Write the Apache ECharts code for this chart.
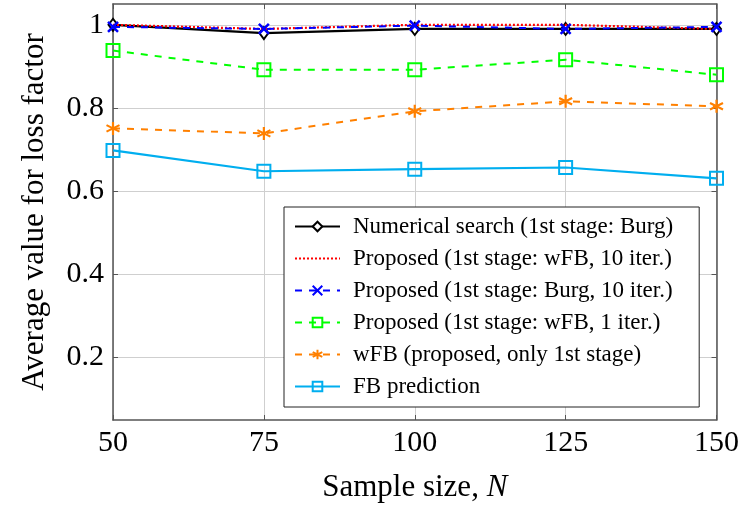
<!DOCTYPE html>
<html>
<head>
<meta charset="utf-8">
<script src="https://cdn.jsdelivr.net/npm/echarts@6/dist/echarts.min.js"></script>
<style>
  html, body { margin: 0; padding: 0; background: #fff; }
  #chart { width: 742px; height: 508px; }
</style>
</head>
<body>
<div id="chart"></div>
<script>
const sampleSizes = [50, 75, 100, 125, 150];
const numericalSearch = [1.0, 0.98, 0.99, 0.99, 0.99];
const proposedWfb10 = [1.0, 0.99, 1.0, 1.0, 0.99];
const proposedBurg10 = [0.995, 0.99, 0.998, 0.99, 0.995];
const proposedWfb1 = [0.938, 0.892, 0.892, 0.916, 0.88];
const wfbOnly = [0.751, 0.739, 0.792, 0.816, 0.804];
const fbPrediction = [0.698, 0.648, 0.653, 0.657, 0.631];
const yTicks = [0.2, 0.4, 0.6, 0.8, 1];

const pairs = (ys) => sampleSizes.map((x, i) => [x, ys[i]]);

const serif = "'Liberation Serif', 'DejaVu Serif', serif";
const frame = "#555";
const grid = "#cfcfcf";

// marker shapes
const xMark = "path://M-1,-1 L1,1 M-1,1 L1,-1";
const asterisk = "path://M0,-10 L0,10 M-8.66,-5 L8.66,5 M-8.66,5 L8.66,-5";

const chart = echarts.init(document.getElementById("chart"));

const baseX = {
  type: "value",
  min: 50,
  max: 150,
  interval: 25,
  axisLine: { lineStyle: { color: frame, width: 1.5 } },
  axisTick: { inside: true, length: 5, lineStyle: { color: frame } },
  splitLine: { show: true, lineStyle: { color: grid, width: 1 } },
};
const baseY = {
  type: "value",
  min: 0.05,
  max: 1.05,
  axisLine: { show: true, lineStyle: { color: frame, width: 1.5 } },
  axisTick: { inside: true, length: 5, customValues: yTicks, lineStyle: { color: frame } },
  splitLine: { show: true, lineStyle: { color: grid, width: 1 } },
};

chart.setOption({
  animation: false,
  textStyle: { fontFamily: serif },
  grid: { left: 113, right: 25, top: 4, bottom: 88 },
  xAxis: [
    {
      ...baseX,
      position: "bottom",
      axisLabel: { fontFamily: serif, fontSize: 30, color: "#000", margin: 8 },
      name: "{a|Sample size, }{b|N}",
      nameLocation: "middle",
      nameGap: 52,
      nameTextStyle: {
        rich: {
          a: { fontFamily: serif, fontSize: 31, color: "#000" },
          b: { fontFamily: serif, fontSize: 31, color: "#000", fontStyle: "italic" },
        },
      },
    },
    { ...baseX, position: "top", axisLabel: { show: false }, splitLine: { show: false } },
  ],
  yAxis: [
    {
      ...baseY,
      position: "left",
      axisLabel: {
        customValues: yTicks,
        fontFamily: serif,
        fontSize: 30,
        color: "#000",
        margin: 9,
        formatter: (v) => (Math.abs(v - 1) < 1e-9 ? "1" : v.toFixed(1)),
      },
      name: "Average value for loss factor",
      nameLocation: "middle",
      nameGap: 63,
      nameTextStyle: { fontFamily: serif, fontSize: 31, color: "#000" },
    },
    { ...baseY, position: "right", axisLabel: { show: false }, splitLine: { show: false } },
  ],
  legend: {
    orient: "vertical",
    left: 284,
    top: 207,
    padding: [8, 26, 9, 10],
    itemGap: 9,
    itemWidth: 45,
    itemHeight: 12,
    backgroundColor: "#fff",
    borderColor: "#222",
    borderWidth: 1,
    textStyle: { fontFamily: serif, fontSize: 23, color: "#000", padding: [0, 0, 0, 8] },
  },
  series: [
    {
      name: "Numerical search (1st stage: Burg)",
      type: "line",
      data: pairs(numericalSearch),
      symbol: "diamond",
      symbolSize: [9, 12],
      lineStyle: { color: "#000", width: 2.2 },
      itemStyle: { color: "#fff", borderColor: "#000", borderWidth: 2 },
      z: 3,
    },
    {
      name: "Proposed (1st stage: wFB, 10 iter.)",
      type: "line",
      data: pairs(proposedWfb10),
      symbol: "circle",
      showSymbol: false,
      lineStyle: { color: "#ff0000", width: 2.2, type: [2, 2] },
      itemStyle: { color: "rgba(0,0,0,0)" },
      z: 4,
    },
    {
      name: "Proposed (1st stage: Burg, 10 iter.)",
      type: "line",
      data: pairs(proposedBurg10),
      symbol: xMark,
      symbolSize: 10,
      lineStyle: { color: "#0000ff", width: 2, type: [7, 7] },
      itemStyle: { color: "#0000ff", borderColor: "#0000ff", borderWidth: 2.5 },
      z: 5,
    },
    {
      name: "Proposed (1st stage: wFB, 1 iter.)",
      type: "line",
      data: pairs(proposedWfb1),
      symbol: "rect",
      symbolSize: 13,
      lineStyle: { color: "#00ff00", width: 2, type: [7, 7] },
      itemStyle: { color: "rgba(255,255,255,0)", borderColor: "#00ff00", borderWidth: 2 },
    },
    {
      name: "wFB (proposed, only 1st stage)",
      type: "line",
      data: pairs(wfbOnly),
      symbol: asterisk,
      symbolSize: 13,
      lineStyle: { color: "#ff8000", width: 2, type: [7, 7] },
      itemStyle: { color: "#ff8000", borderColor: "#ff8000", borderWidth: 2.2 },
    },
    {
      name: "FB prediction",
      type: "line",
      data: pairs(fbPrediction),
      symbol: "rect",
      symbolSize: 13,
      lineStyle: { color: "#00aeef", width: 2.2 },
      itemStyle: { color: "rgba(255,255,255,0)", borderColor: "#00aeef", borderWidth: 2 },
    },
  ],
});
</script>
</body>
</html>
